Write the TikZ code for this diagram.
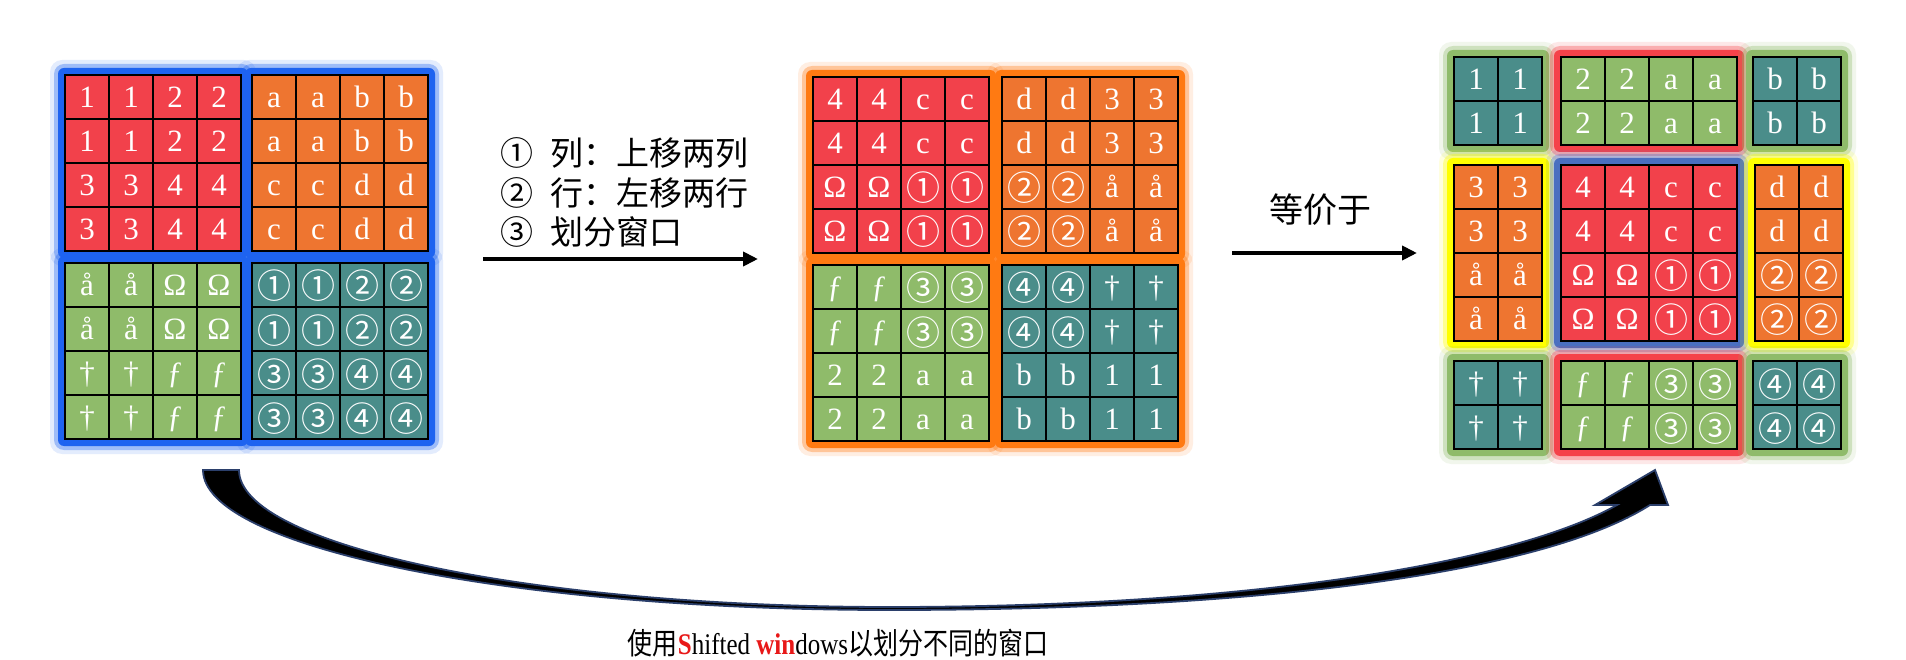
\documentclass[tikz,border=0pt]{standalone}
\usepackage{fontspec}
\usepackage{graphicx}
\setmainfont{Liberation Serif}
\newfontfamily\cjk{Noto Sans CJK SC}
\usetikzlibrary{arrows.meta}

\definecolor{cred}{HTML}{F2414B}
\definecolor{corange}{HTML}{EE7530}
\definecolor{cgreen}{HTML}{8FBB6A}
\definecolor{cteal}{HTML}{4A8D8A}
\definecolor{gblue}{HTML}{1E63F0}
\definecolor{gblueb}{HTML}{4A6FC0}
\definecolor{gorange}{HTML}{FF7A12}
\definecolor{gred}{HTML}{F5424A}
\definecolor{ggreen}{HTML}{8FBB6A}
\definecolor{gyellow}{HTML}{FFFF00}
\definecolor{navyedge}{HTML}{2B3F6B}
\definecolor{capred}{HTML}{E81818}

\newcommand\cir[1]{\raisebox{-3.5pt}{\cjk\fontsize{34}{34}\selectfont #1}}
\newcommand\cna{\cir{①}}
\newcommand\cnb{\cir{②}}
\newcommand\cnc{\cir{③}}
\newcommand\cnd{\cir{④}}

% glow: x y w h color
\newcommand\glowbox[5]{%
  \fill[#5,opacity=0.12,rounded corners=12pt] ({#1-15},{#2-15}) rectangle ({#1+#3+15},{#2+#4+15});
  \fill[#5,opacity=0.35,rounded corners=10pt] ({#1-11},{#2-11}) rectangle ({#1+#3+11},{#2+#4+11});
  \fill[#5,rounded corners=6pt] ({#1-7},{#2-7}) rectangle ({#1+#3+7},{#2+#4+7});
}
% block: name x y color rows
\newcommand\gridblock[5]{%
  \foreach \rw [count=\ri] in {#5} {
    \foreach \cv [count=\ci] in \rw {
      \node[gcell,fill=#4] (#1-\ri-\ci) at ({#2+(\ci-0.5)*44},{#3+(\ri-0.5)*44}) {\cv};
    }
  }
}

\tikzset{
  gcell/.style={draw=black,line width=2pt,minimum size=44pt,inner sep=0pt,
    text=white,font=\fontsize{31}{31}\selectfont,text height=21pt,text depth=0pt},
  lbl/.style={font=\cjk\fontsize{33}{33}\selectfont,inner sep=0pt},
  straight/.style={line width=4pt,-{Triangle[length=15pt,width=14pt]}},
}

\begin{document}
\begin{tikzpicture}[x=1pt,y=-1pt]
\useasboundingbox (0,0) rectangle (1906,660);
\fill[white] (0,0) rectangle (1906,660);

% ---------- glows ----------
\glowbox{65}{75}{176}{176}{gblue}
\glowbox{252}{75}{176}{176}{gblue}
\glowbox{65}{263}{176}{176}{gblue}
\glowbox{252}{263}{176}{176}{gblue}

\glowbox{813}{77}{176}{176}{gorange}
\glowbox{1002}{77}{176}{176}{gorange}
\glowbox{813}{265}{176}{176}{gorange}
\glowbox{1002}{265}{176}{176}{gorange}

\glowbox{1454}{57}{88}{88}{ggreen}
\glowbox{1561}{57}{176}{88}{gred}
\glowbox{1753}{57}{88}{88}{ggreen}
\glowbox{1454}{165}{88}{176}{gyellow}
\glowbox{1561}{165}{176}{176}{gblueb}
\glowbox{1755}{165}{88}{176}{gyellow}
\glowbox{1454}{361}{88}{88}{ggreen}
\glowbox{1561}{361}{176}{88}{gred}
\glowbox{1753}{361}{88}{88}{ggreen}

% ---------- left grid ----------
\gridblock{La}{65}{75}{cred}{{1,1,2,2},{1,1,2,2},{3,3,4,4},{3,3,4,4}}
\gridblock{Lb}{252}{75}{corange}{{a,a,b,b},{a,a,b,b},{c,c,d,d},{c,c,d,d}}
\gridblock{Lc}{65}{263}{cgreen}{{å,å,Ω,Ω},{å,å,Ω,Ω},{†,†,ƒ,ƒ},{†,†,ƒ,ƒ}}
\gridblock{Ld}{252}{263}{cteal}{{\cna,\cna,\cnb,\cnb},{\cna,\cna,\cnb,\cnb},{\cnc,\cnc,\cnd,\cnd},{\cnc,\cnc,\cnd,\cnd}}

% ---------- middle grid ----------
\gridblock{Ma}{813}{77}{cred}{{4,4,c,c},{4,4,c,c},{Ω,Ω,\cna,\cna},{Ω,Ω,\cna,\cna}}
\gridblock{Mb}{1002}{77}{corange}{{d,d,3,3},{d,d,3,3},{\cnb,\cnb,å,å},{\cnb,\cnb,å,å}}
\gridblock{Mc}{813}{265}{cgreen}{{ƒ,ƒ,\cnc,\cnc},{ƒ,ƒ,\cnc,\cnc},{2,2,a,a},{2,2,a,a}}
\gridblock{Md}{1002}{265}{cteal}{{\cnd,\cnd,†,†},{\cnd,\cnd,†,†},{b,b,1,1},{b,b,1,1}}

% ---------- right grid ----------
\gridblock{Ra}{1454}{57}{cteal}{{1,1},{1,1}}
\gridblock{Rb}{1561}{57}{cgreen}{{2,2,a,a},{2,2,a,a}}
\gridblock{Rc}{1753}{57}{cteal}{{b,b},{b,b}}
\gridblock{Rd}{1454}{165}{corange}{{3,3},{3,3},{å,å},{å,å}}
\gridblock{Re}{1561}{165}{cred}{{4,4,c,c},{4,4,c,c},{Ω,Ω,\cna,\cna},{Ω,Ω,\cna,\cna}}
\gridblock{Rf}{1755}{165}{corange}{{d,d},{d,d},{\cnb,\cnb},{\cnb,\cnb}}
\gridblock{Rg}{1454}{361}{cteal}{{†,†},{†,†}}
\gridblock{Rh}{1561}{361}{cgreen}{{ƒ,ƒ,\cnc,\cnc},{ƒ,ƒ,\cnc,\cnc}}
\gridblock{Ri}{1753}{361}{cteal}{{\cnd,\cnd},{\cnd,\cnd}}

% ---------- labels and straight arrows ----------
\node[lbl,anchor=west] (l1) at (500,153) {①\hspace{17pt}列：上移两列};
\node[lbl,anchor=west] (l2) at (500,193) {②\hspace{17pt}行：左移两行};
\node[lbl,anchor=west] (l3) at (500,232) {③\hspace{17pt}划分窗口};
\coordinate (a1s) at (483,259);
\coordinate (a1e) at (758,259);
\draw[straight] (a1s) -- (a1e);

\node[lbl,font=\cjk\fontsize{34}{34}\selectfont] (eq) at (1320,210) {等价于};
\coordinate (a2s) at (1232,253);
\coordinate (a2e) at (1417,253);
\draw[straight] (a2s) -- (a2e);

% ---------- curved arrow ----------
\fill[black,draw=navyedge,line width=1.8pt,line join=miter]
  (203,470) .. controls (203,547) and (510,610) .. (890,610)
  .. controls (1250,610) and (1540,575) .. (1650,505)
  -- (1668,505) -- (1655,470) -- (1595,505) -- (1617,505)
  .. controls (1510,565) and (1240,607) .. (890,607)
  .. controls (530,607) and (239,545) .. (239,470) -- cycle;

% ---------- caption ----------
\node[inner sep=0pt,font=\fontsize{25}{25}\selectfont] (cap) at (838,643)
  {\scalebox{1}[1.2]{{\cjk 使用}{\color{capred}\bfseries S}hifted {\color{capred}\bfseries win}dows{\cjk 以划分不同的窗口}}};
\end{tikzpicture}
\end{document}
